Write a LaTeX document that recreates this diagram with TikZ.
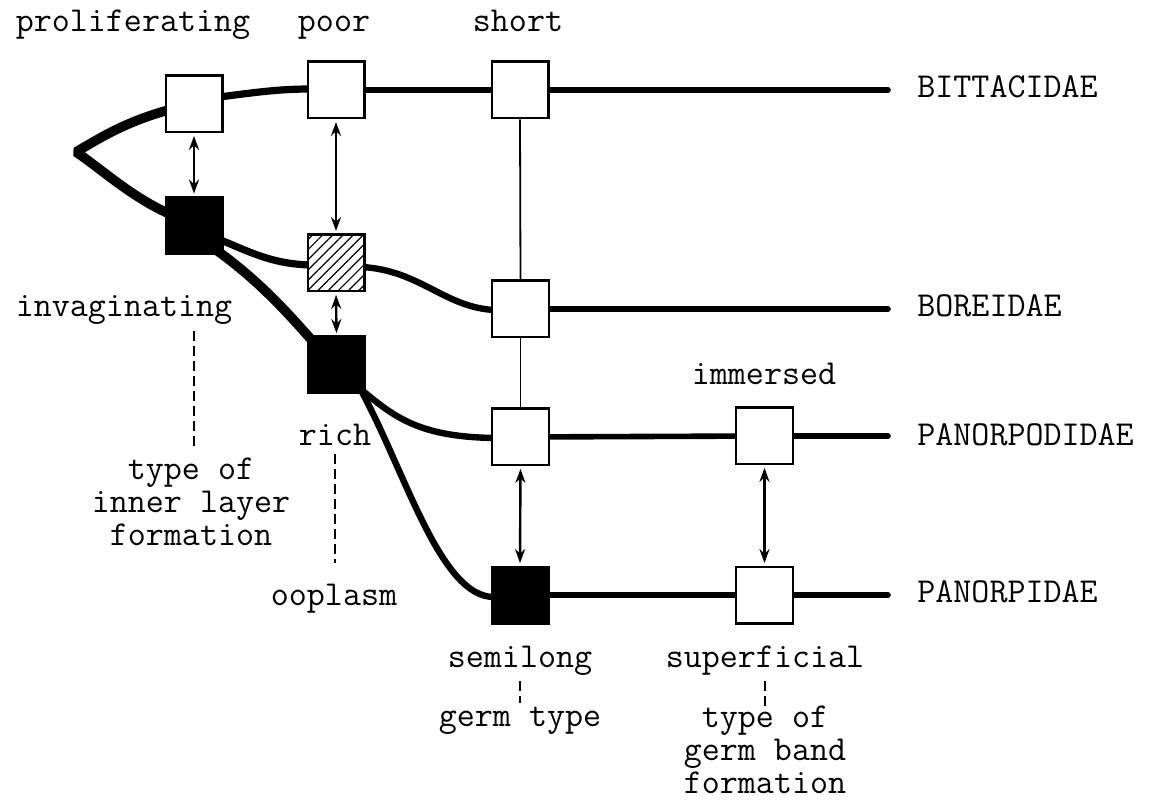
\documentclass[tikz,border=0pt]{standalone}
\usepackage{fontspec}
\usetikzlibrary{arrows.meta,calc,patterns.meta,backgrounds}

\begin{document}
\begin{tikzpicture}[x=0.5pt,y=-0.5pt,
  box/.style={draw,line width=1.2pt,minimum size=28.3pt,inner sep=0pt,fill=white},
  solidbox/.style={box,fill=black},
  hatchbox/.style={box,postaction={pattern={Lines[angle=45,distance=3.6pt,line width=0.6pt]}}},
  lbl/.style={font=\ttfamily\fontsize{17.5pt}{16.5pt}\selectfont,inner sep=0pt},
  lineage/.style={line width=#1,line cap=round},
  link/.style={line width=0.9pt},
  swap/.style={line width=1.2pt,{Stealth[length=7pt,width=5pt]}-{Stealth[length=7pt,width=5pt]},
    shorten <=1.2pt,shorten >=1.2pt},
  guide/.style={line width=0.8pt,dash pattern=on 5pt off 2.5pt}
]
\useasboundingbox (0,0) rectangle (1158,802);

% character-state boxes
\node[box]      (A1) at (194,104) {};
\node[solidbox] (A2) at (194,225.5) {};
\node[box]      (B1) at (336,90) {};
\node[hatchbox] (B2) at (336,263) {};
\node[solidbox] (B3) at (336.5,365) {};
\node[box]      (C1) at (520,90) {};
\node[box]      (C2) at (520.5,309) {};
\node[box]      (C3) at (520.5,437) {};
\node[solidbox] (C4) at (520,595) {};
\node[box]      (D1) at (764.5,436) {};
\node[box]      (D2) at (764.5,595) {};

% root and terminal points of the lineages
\coordinate (R)  at (76,152);
\coordinate (E1) at (888,90);
\coordinate (E2) at (888,309);
\coordinate (E3) at (888,436);
\coordinate (E4) at (888,595);

% lineages
\begin{scope}[on background layer]
  \draw[lineage=4.8pt,line join=bevel]
    ($(A1.west)+(4,6)$) .. controls (125,122) and (100,138) .. (R)
    .. controls (100,168) and (130,196) .. ($(A2.west)+(4,-12)$);
  \draw[lineage=3.6pt] ($(A1.east)+(-4,-7)$) .. controls (258,92) and (280,89) .. ($(B1.west)+(4,-1)$);
  \draw[lineage=3.2pt] (B1.center) -- (C1.center);
  \draw[lineage=2.8pt] (C1.center) -- (E1);

  \draw[lineage=3.6pt] ($(A2.east)+(-4,14)$) .. controls (250,252) and (272,264) .. ($(B2.west)+(4,2)$);
  \draw[lineage=3.2pt] ($(B2.east)+(-4,4)$) .. controls (420,270) and (445,308) .. ($(C2.west)+(4,1)$);
  \draw[lineage=2.8pt] (C2.center) -- (E2);

  \draw[lineage=4.8pt] ($(A2.south east)+(-6,-4)$) .. controls (262,283) and (292,318) .. ($(B3.north west)+(6,6)$);
  \draw[lineage=3.2pt] ($(B3.south east)+(-6,-6)$) .. controls (395,418) and (420,437) .. ($(C3.west)+(4,1)$);
  \draw[lineage=2.8pt] (C3.center) -- (D1.center);
  \draw[lineage=2.8pt] (D1.center) -- (E3);
  \draw[lineage=3.2pt] ($(B3.south east)+(-6,-6)$) .. controls (405,470) and (440,598) .. ($(C4.west)+(4,2)$);
  \draw[lineage=2.8pt] (C4.center) -- (D2.center);
  \draw[lineage=2.8pt] (D2.center) -- (E4);
\end{scope}

% shared states along the germ-type column
\draw[link] (C1.south) -- (C2.north);
\draw[link] (C2.south) -- (C3.north);

% alternative states
\draw[swap] (A1.south) -- (A2.north);
\draw[swap] (B1.south) -- (B2.north);
\draw[swap] (B2.south) -- (B3.north);
\draw[swap] (C3.south) -- (C4.north);
\draw[swap] (D1.south) -- (D2.north);

% state labels
\node[lbl,anchor=base] (tProl)  at (133,32) {proliferating};
\node[lbl,anchor=base] (tPoor)  at (334,32) {poor};
\node[lbl,anchor=base] (tShort) at (518,32) {short};
\node[lbl,anchor=base] (tInv)   at (124,317) {invaginating};
\node[lbl,anchor=base] (tImm)   at (764,385) {immersed};
\node[lbl,anchor=base] (tRich)  at (335,445) {rich};
\node[lbl,anchor=base] (tOopl)  at (334,605) {ooplasm};
\node[lbl,anchor=base] (tSemi)  at (520,667) {semilong};
\node[lbl,anchor=base] (tSuper) at (765,667) {superficial};

% character names
\node[lbl,anchor=north,align=center] (tInner) at (191,458) {type of\\inner layer\\formation};
\node[lbl,anchor=base] (tGerm) at (520,726) {germ type};
\node[lbl,anchor=north,align=center] (tBand) at (765,706) {type of\\germ band\\formation};

% families
\node[lbl,anchor=base west] (tBitt)   at (917,98)  {BITTACIDAE};
\node[lbl,anchor=base west] (tBore)   at (917,317) {BOREIDAE};
\node[lbl,anchor=base west] (tPanpod) at (917,445) {PANORPODIDAE};
\node[lbl,anchor=base west] (tPanorp) at (917,603) {PANORPIDAE};

% state-to-character guides
\draw[guide,shorten <=3pt,shorten >=4pt] (tInv.south -| A2) -- (tInner.north -| A2);
\draw[guide,shorten <=4pt,shorten >=10pt] (tRich.south) -- (tOopl.north -| tRich.south);
\draw[guide,shorten <=3pt,shorten >=1.5pt] (tSemi.south) -- (tGerm.north -| tSemi.south);
\draw[guide,shorten <=3pt,shorten >=0pt] (tSuper.south) -- (tBand.north -| tSuper.south);
\end{tikzpicture}
\end{document}
